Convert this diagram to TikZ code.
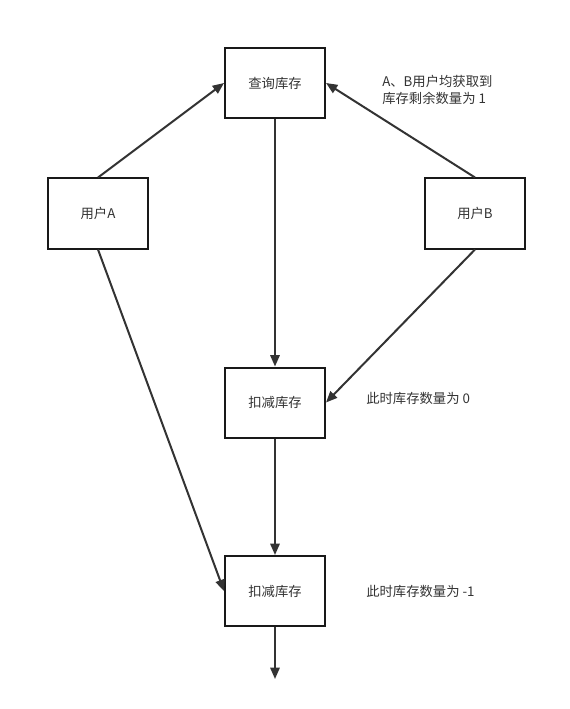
\documentclass[tikz,border=0pt]{standalone}
\usepackage{fontspec}
\setmainfont{Noto Sans CJK SC}
\usetikzlibrary{arrows.meta}
\definecolor{ink}{HTML}{333333}
\tikzset{
  box/.style={draw=black!90, line width=1.5pt, minimum width=75pt, minimum height=52.5pt, inner sep=0pt, font=\fontsize{10}{12.75}\selectfont, text=ink},
  conn/.style={draw=ink, line width=1.5pt, -{Triangle[length=8.5pt,width=7pt]}},
  note/.style={anchor=west, align=left, inner sep=0pt, font=\fontsize{10}{12.75}\selectfont, text=ink}
}
\begin{document}
\begin{tikzpicture}[x=0.75pt,y=-0.75pt]
\useasboundingbox (0,0) rectangle (570,709);
\node[box] (q) at (275,83) {查询库存};
\node[box] (ua) at (98,213.5) {用户A};
\node[box] (ub) at (475,213.5) {用户B};
\node[box] (k1) at (275,402.5) {扣减库存};
\node[box] (k2) at (275,591) {扣减库存};
\coordinate (end) at (275,679);
\draw[conn] (ua.north) -- (q.west);
\draw[conn] (ub.north) -- (q.east);
\draw[conn] (q.south) -- (k1.north);
\draw[conn] (ub.south) -- (k1.east);
\draw[conn] (ua.south) -- (k2.west);
\draw[conn] (k1.south) -- (k2.north);
\draw[conn] (k2.south) -- (end);
\node[note] (n1) at (382,89.5) {A、B用户均获取到\\库存剩余数量为 1};
\node[note] (n2) at (366,398) {此时库存数量为 0};
\node[note] (n3) at (366,591) {此时库存数量为 -1};
\end{tikzpicture}
\end{document}
